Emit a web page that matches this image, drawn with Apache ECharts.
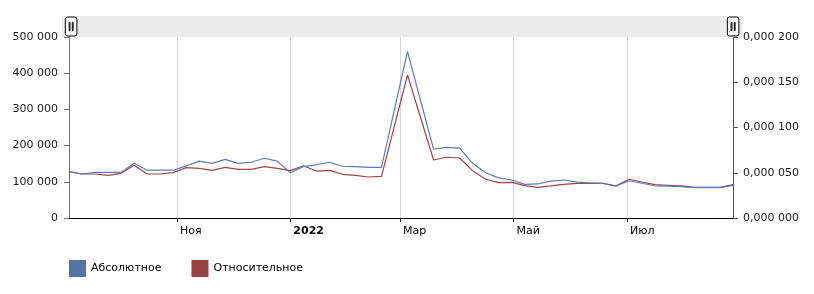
<!DOCTYPE html>
<html>
<head>
<meta charset="utf-8">
<script src="https://cdn.jsdelivr.net/npm/echarts@6/dist/echarts.min.js"></script>
<style>html,body{margin:0;padding:0;background:#fff}#c{width:814px;height:294px}</style>
</head>
<body>
<div id="c"></div>
<script>
var dates = ['2021-09-04','2021-09-11','2021-09-18','2021-09-25','2021-10-02','2021-10-09','2021-10-16','2021-10-23','2021-10-30',
'2021-11-06','2021-11-13','2021-11-20','2021-11-27','2021-12-04','2021-12-11','2021-12-18','2021-12-25',
'2022-01-01','2022-01-08','2022-01-15','2022-01-22','2022-01-29','2022-02-05','2022-02-12','2022-02-19',
'2022-03-05','2022-03-19','2022-03-26','2022-04-02','2022-04-09','2022-04-16','2022-04-23','2022-04-30',
'2022-05-07','2022-05-14','2022-05-21','2022-05-28','2022-06-04','2022-06-11','2022-06-18','2022-06-25',
'2022-07-02','2022-07-09','2022-07-16','2022-07-23','2022-07-30','2022-08-06','2022-08-13','2022-08-20','2022-08-27'];
var absolute = [128000,121500,126000,126000,126000,151000,132000,132000,132000,
144000,157000,151000,162000,151000,154000,165000,157000,
125000,142000,147000,154000,143000,142000,140000,140000,
460000,190000,195000,193000,151000,125000,111000,105000,
93000,94000,102000,105000,99000,97000,96000,88000,
103000,96000,89000,88000,86500,84000,84000,84000,90000];
var relative = [0.0000512,0.0000486,0.0000486,0.0000472,0.0000494,0.0000582,0.0000486,0.0000486,0.0000501,
0.0000556,0.0000549,0.0000527,0.0000560,0.0000538,0.0000538,0.0000567,0.0000549,
0.0000523,0.0000578,0.0000519,0.0000527,0.0000483,0.0000472,0.0000453,0.0000461,
0.000158,0.0000641,0.0000671,0.0000663,0.0000523,0.0000428,0.0000390,0.0000394,
0.0000357,0.0000339,0.0000354,0.0000372,0.0000383,0.0000383,0.0000383,0.0000354,
0.0000428,0.0000398,0.0000368,0.0000361,0.0000354,0.0000339,0.0000339,0.0000339,0.0000368];
var seriesNames = ['Абсолютное','Относительное'];
var monthTicks = ['2021-11-01','2022-01-01','2022-03-01','2022-05-01','2022-07-01'];
var monthNames = ['Янв','Фев','Мар','Апр','Май','Июн','Июл','Авг','Сен','Окт','Ноя','Дек'];

function toTs(s){var p=s.split('-');return new Date(+p[0],+p[1]-1,+p[2]).getTime();}
var font = 'DejaVu Sans, Verdana, sans-serif';
var chart = echarts.init(document.getElementById('c'), null, {renderer:'canvas'});
var tickVals = monthTicks.map(toTs);
chart.setOption({
  animation:false,
  textStyle:{fontFamily:font},
  graphic:[{type:'rect',shape:{x:62,y:16,width:680,height:21},style:{fill:'#ececec'},z:-1}],
  grid:{left:69,right:81,top:37,bottom:76},
  legend:{left:69,top:260,padding:0,itemGap:30,itemWidth:17,itemHeight:17,icon:'rect',
    textStyle:{fontSize:11,color:'#000',fontFamily:font},data:seriesNames},
  dataZoom:[{type:'slider',xAxisIndex:0,filterMode:'none',start:0,end:100,top:16,height:21,left:69,right:81,
    backgroundColor:'#ececec',borderColor:'transparent',fillerColor:'rgba(0,0,0,0)',
    showDataShadow:false,showDetail:false,brushSelect:false,moveHandleSize:0,
    dataBackground:{lineStyle:{opacity:0},areaStyle:{opacity:0}},
    handleIcon:'path://M2,0 L9,0 Q11,0 11,2 L11,16 Q11,18 9,18 L2,18 Q0,18 0,16 L0,2 Q0,0 2,0 Z M3.6,5 L4.4,5 L4.4,13 L3.6,13 Z M6.6,5 L7.4,5 L7.4,13 L6.6,13 Z',
    handleSize:'90%',handleStyle:{color:'#fff',borderColor:'#000',borderWidth:1},
    emphasis:{handleStyle:{color:'#fff',borderColor:'#000'}}}],
  xAxis:{type:'value',min:toTs(dates[0]),max:toTs(dates[dates.length-1]),
    axisLine:{lineStyle:{color:'#000',width:1}},
    axisTick:{show:true,length:4,lineStyle:{color:'#000'},customValues:tickVals},
    splitLine:{show:true,lineStyle:{color:'#d9d9d9',width:1}},
    axisLabel:{customValues:tickVals,align:'left',padding:[0,0,0,3],margin:8,fontSize:11,color:'#000',fontFamily:font,
      formatter:function(v){var d=new Date(v);if(d.getMonth()===0)return '{y|'+d.getFullYear()+'}';return monthNames[d.getMonth()];},
      rich:{y:{fontWeight:'bold',fontSize:11,color:'#000',fontFamily:font}}}},
  yAxis:[{type:'value',min:0,max:500000,interval:100000,position:'left',
      axisLine:{show:true,lineStyle:{color:'#5673a8'}},axisTick:{show:true,length:5,lineStyle:{color:'#5673a8'}},
      splitLine:{show:false},
      axisLabel:{margin:11,fontSize:11,color:'#1a1a1a',fontFamily:font,
        formatter:function(v){return String(v).replace(/\B(?=(\d{3})+(?!\d))/g,' ');}}},
    {type:'value',min:0,max:0.0002,interval:0.00005,position:'right',
      axisLine:{show:true,lineStyle:{color:'#8c3b3b'}},axisTick:{show:true,length:5,lineStyle:{color:'#8c3b3b'}},
      splitLine:{show:false},
      axisLabel:{margin:10,fontSize:11,color:'#1a1a1a',fontFamily:font,
        formatter:function(v){var s=v.toFixed(6).replace('.',',');return s.slice(0,5)+' '+s.slice(5);}}}],
  series:[
    {name:seriesNames[0],type:'line',yAxisIndex:0,showSymbol:false,symbol:'none',
      itemStyle:{color:'#5673a8'},lineStyle:{color:'#5b7cb6',width:1.2},
      data:dates.map(function(d,i){return [toTs(d),absolute[i]];}),z:3},
    {name:seriesNames[1],type:'line',yAxisIndex:1,showSymbol:false,symbol:'none',
      itemStyle:{color:'#964441'},lineStyle:{color:'#a04646',width:1.2},
      data:dates.map(function(d,i){return [toTs(d),relative[i]];}),z:2}
  ]
});
</script>
</body>
</html>
